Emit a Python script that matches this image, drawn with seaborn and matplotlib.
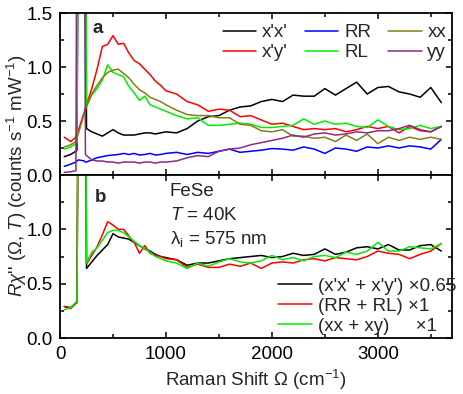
import numpy as np
import pandas as pd
import matplotlib
matplotlib.use("Agg")
import matplotlib.pyplot as plt
from matplotlib.ticker import MultipleLocator
import seaborn as sns

# Raman shift grid (cm^-1)
shift = [40, 100, 150, 160, 175, 228, 240, 250, 300, 350, 400, 450, 500, 550, 600, 650,
         700, 750, 800, 850, 900, 950, 1000, 1100, 1200, 1300, 1400, 1500, 1600, 1700,
         1800, 1900, 2000, 2100, 2200, 2300, 2400, 2500, 2600, 2700, 2800, 2900, 3000,
         3100, 3200, 3300, 3400, 3500, 3600]

# --- panel a ---
xpxp = [0.17, 0.19, 0.22, 0.23, 3, 3, 3, 0.43, 0.40, 0.38, 0.36, 0.39, 0.42, 0.39, 0.37, 0.37,
        0.37, 0.38, 0.39, 0.39, 0.38, 0.39, 0.40, 0.39, 0.43, 0.50, 0.54, 0.55, 0.60, 0.63,
        0.64, 0.68, 0.70, 0.68, 0.74, 0.73, 0.73, 0.80, 0.74, 0.80, 0.86, 0.75, 0.81,
        0.82, 0.77, 0.75, 0.72, 0.81, 0.67]
xpyp = [0.35, 0.31, 0.35, 0.38, 0.42, 0.58, 0.62, 0.65, 0.80, 0.98, 1.19, 1.21, 1.29, 1.21, 1.22, 1.13,
        1.06, 1.03, 0.98, 0.93, 0.87, 0.83, 0.78, 0.75, 0.68, 0.65, 0.59, 0.61, 0.60, 0.54,
        0.55, 0.51, 0.47, 0.48, 0.45, 0.42, 0.43, 0.42, 0.43, 0.40, 0.42, 0.45, 0.43,
        0.45, 0.39, 0.45, 0.41, 0.40, 0.45]
rr = [0.08, 0.10, 0.12, 0.13, 0.14, 0.13, 0.12, 0.12, 0.14, 0.16, 0.17, 0.18, 0.185, 0.19, 0.20, 0.19,
      0.20, 0.185, 0.19, 0.20, 0.185, 0.19, 0.20, 0.21, 0.19, 0.21, 0.20, 0.22, 0.24, 0.21,
      0.22, 0.23, 0.245, 0.24, 0.23, 0.26, 0.24, 0.20, 0.25, 0.24, 0.22, 0.26, 0.25,
      0.27, 0.25, 0.27, 0.26, 0.24, 0.33]
rl = [0.24, 0.26, 0.29, 0.30, 3, 3, 3, 0.63, 0.74, 0.80, 0.88, 1.02, 0.95, 0.93, 0.91, 0.82,
      0.76, 0.69, 0.73, 0.65, 0.63, 0.61, 0.59, 0.55, 0.52, 0.53, 0.46, 0.46, 0.47, 0.48,
      0.47, 0.44, 0.44, 0.45, 0.46, 0.52, 0.47, 0.50, 0.47, 0.48, 0.45, 0.44, 0.51,
      0.45, 0.42, 0.43, 0.46, 0.43, 0.45]
xx = [0.26, 0.28, 0.31, 0.34, 0.39, 0.56, 0.60, 0.64, 0.75, 0.83, 0.90, 0.95, 0.97, 0.98, 0.94, 0.90,
      0.84, 0.79, 0.76, 0.72, 0.70, 0.68, 0.65, 0.60, 0.56, 0.55, 0.55, 0.53, 0.53, 0.47,
      0.46, 0.41, 0.40, 0.42, 0.36, 0.36, 0.34, 0.35, 0.31, 0.37, 0.32, 0.38, 0.29,
      0.35, 0.32, 0.35, 0.33, 0.35, 0.33]
yy = [0.025, 0.03, 0.04, 3, 3, 3, 0.19, 0.18, 0.14, 0.13, 0.13, 0.12, 0.12, 0.11, 0.12, 0.12,
      0.12, 0.11, 0.12, 0.12, 0.11, 0.12, 0.12, 0.13, 0.16, 0.18, 0.17, 0.22, 0.24, 0.25,
      0.28, 0.30, 0.32, 0.34, 0.37, 0.35, 0.38, 0.39, 0.37, 0.38, 0.40, 0.39, 0.41,
      0.41, 0.43, 0.46, 0.42, 0.40, 0.45]

# --- panel b (sums, scaled) ---
sum_xpxp_xpyp = [0.29, 0.28, 0.32, 0.33, 3, 3, 3, 0.64, 0.70, 0.76, 0.81, 0.86, 0.96, 0.93, 0.92, 0.91,
                 0.88, 0.85, 0.82, 0.80, 0.77, 0.75, 0.74, 0.72, 0.67, 0.69, 0.69, 0.71, 0.73, 0.74,
                 0.75, 0.76, 0.74, 0.75, 0.78, 0.76, 0.77, 0.82, 0.77, 0.79, 0.83, 0.84, 0.82,
                 0.86, 0.81, 0.81, 0.85, 0.86, 0.80]
sum_rr_rl = [0.29, 0.27, 0.32, 0.33, 3, 3, 3, 0.68, 0.76, 0.84, 0.95, 1.07, 1.04, 1.00, 1.00, 0.94,
             0.88, 0.78, 0.85, 0.78, 0.76, 0.75, 0.73, 0.72, 0.65, 0.68, 0.65, 0.65, 0.68, 0.66,
             0.69, 0.64, 0.69, 0.70, 0.69, 0.72, 0.73, 0.71, 0.74, 0.73, 0.72, 0.75, 0.80,
             0.78, 0.77, 0.73, 0.77, 0.80, 0.87]
sum_xx_xy = [0.26, 0.28, 0.33, 0.34, 3, 3, 3, 0.69, 0.79, 0.83, 0.90, 0.97, 0.99, 0.99, 0.97, 0.93,
             0.89, 0.85, 0.82, 0.79, 0.75, 0.73, 0.71, 0.69, 0.64, 0.69, 0.66, 0.70, 0.73, 0.70,
             0.69, 0.71, 0.76, 0.72, 0.74, 0.71, 0.75, 0.76, 0.74, 0.79, 0.77, 0.80, 0.88,
             0.80, 0.80, 0.84, 0.83, 0.82, 0.87]

labels_a = ["x'x'", "x'y'", "RR", "RL", "xx", "yy"]
series_a = [xpxp, xpyp, rr, rl, xx, yy]
colors_a = ["black", "#ff0000", "#0000ff", "#00ee00", "#857f10", "#8a2a8a"]

labels_b = ["(x'x' + x'y') \u00d70.65", "(RR + RL) \u00d71", "(xx + xy)     \u00d71"]
series_b = [sum_xpxp_xpyp, sum_rr_rl, sum_xx_xy]
colors_b = ["black", "#ff0000", "#00ee00"]

sns.set_theme(style="ticks")
plt.rcParams["font.family"] = ["Liberation Sans", "DejaVu Sans"]
plt.rcParams["mathtext.fontset"] = "custom"
plt.rcParams["mathtext.rm"] = "Liberation Sans"
plt.rcParams["mathtext.it"] = "Liberation Sans:italic"
plt.rcParams["mathtext.bf"] = "Liberation Sans:bold"
FS = 13.5

fig = plt.figure(figsize=(4.63, 3.94), dpi=100)
ax_a = fig.add_axes([0.1296, 0.5558, 0.8466, 0.4112])
ax_b = fig.add_axes([0.1296, 0.1421, 0.8466, 0.4137])

for lab, ys, c in zip(labels_a, series_a, colors_a):
    sns.lineplot(x=shift, y=ys, color=c, linewidth=1.1, label=lab, ax=ax_a, estimator=None, sort=False)
for lab, ys, c in zip(labels_b, series_b, colors_b):
    sns.lineplot(x=shift, y=ys, color=c, linewidth=1.1, label=lab, ax=ax_b, estimator=None, sort=False)

for ax in (ax_a, ax_b):
    ax.set_xlim(0, 3700)
    ax.set_ylim(0, 1.5)
    ax.xaxis.set_major_locator(MultipleLocator(1000))
    ax.xaxis.set_minor_locator(MultipleLocator(500))
    ax.yaxis.set_major_locator(MultipleLocator(0.5))
    ax.yaxis.set_minor_locator(MultipleLocator(0.25))
    ax.tick_params(which="both", direction="in", top=True, right=True, width=1.1,
                   labelsize=FS, pad=5.5, color="black", labelcolor="black")
    ax.tick_params(which="major", length=4.5)
    ax.tick_params(which="minor", length=3)
    for sp in ax.spines.values():
        sp.set_linewidth(1.3)
        sp.set_color("black")
    ax.set_xlabel("")
    ax.set_ylabel("")

ax_a.tick_params(labelbottom=False)
ax_a.set_yticks([0.0, 0.5, 1.0, 1.5])
ax_a.set_yticklabels(["0.0", "0.5", "1.0", "1.5"])
ax_b.set_yticks([0.0, 0.5, 1.0])
ax_b.set_yticklabels(["0.0", "0.5", "1.0"])

ax_a.legend(ncol=3, loc="upper right", bbox_to_anchor=(0.985, 0.93), frameon=False, fontsize=FS,
            handlelength=1.8, handletextpad=0.3, columnspacing=0.9, labelspacing=0.15,
            borderpad=0, borderaxespad=0)
ax_b.legend(loc="lower right", bbox_to_anchor=(1.01, 0.02), frameon=False, fontsize=FS,
            handlelength=1.8, handletextpad=0.3, labelspacing=0.15, borderpad=0, borderaxespad=0)

ax_a.text(0.082, 0.905, "a", transform=ax_a.transAxes, fontsize=FS, fontweight="bold", va="center")
ax_b.text(0.09, 0.865, "b", transform=ax_b.transAxes, fontsize=FS, fontweight="bold", va="center")
ax_b.text(0.28, 0.9, "FeSe", transform=ax_b.transAxes, fontsize=FS, va="center")
ax_b.text(0.28, 0.75, "$T$ = 40K", transform=ax_b.transAxes, fontsize=FS, va="center")
ax_b.text(0.28, 0.605, "\u03bb$_\\mathregular{i}$ = 575 nm", transform=ax_b.transAxes, fontsize=FS, va="center")

ax_b.set_xlabel("Raman Shift \u03a9 (cm$^{-1}$)", fontsize=FS, labelpad=4)
fig.text(0.036, 0.555, "$R\\chi$'' (\u03a9, $T$) (counts s$^{-1}$ mW$^{-1}$)", rotation=90,
         fontsize=FS, va="center", ha="center")

fig.savefig("out.png", dpi=100)
